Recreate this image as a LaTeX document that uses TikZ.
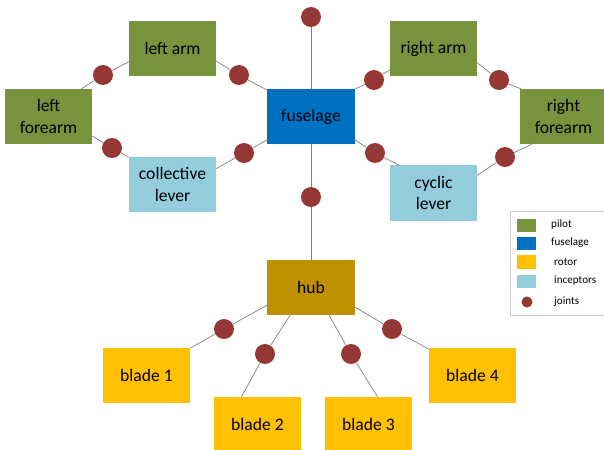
\documentclass[tikz,border=0pt]{standalone}
\usepackage{fontspec}
\setmainfont{Carlito}
\definecolor{pilotgreen}{HTML}{77933C}
\definecolor{fuseblue}{HTML}{0070C0}
\definecolor{rotoryellow}{HTML}{FFC000}
\definecolor{hubgold}{HTML}{BF9000}
\definecolor{incblue}{HTML}{93CDDD}
\definecolor{jointred}{HTML}{953735}
\tikzset{
  part/.style={rectangle, minimum width=2.61cm, minimum height=1.65cm, inner sep=0pt,
    align=center, font=\fontsize{15}{18}\selectfont},
  joint/.style={circle, fill=jointred, minimum size=0.6cm, inner sep=0pt},
  link/.style={draw=gray, line width=0.6pt},
  swatch/.style={rectangle, minimum width=0.57cm, minimum height=0.39cm, inner sep=0pt},
  legtext/.style={anchor=west, inner sep=0pt, font=\fontsize{9.5}{11}\selectfont}
}
\begin{document}
\begin{tikzpicture}[x=0.03cm, y=-0.03cm]
    \useasboundingbox (0,0) rectangle (604,450);

    % pilot, fuselage and inceptors
    \node[part, fill=pilotgreen] (leftarm) at (172.5, 48.5) {left arm};
    \node[part, fill=pilotgreen] (leftforearm) at (48.5, 116.5) {left\\forearm};
    \node[part, fill=incblue] (collective) at (172.5, 184.5) {collective\\lever};
    \node[part, fill=fuseblue] (fuselage) at (311, 116.5) {fuselage};
    \node[part, fill=pilotgreen] (rightarm) at (433.5, 48.5) {right arm};
    \node[part, fill=pilotgreen] (rightforearm) at (563.5, 116.5) {right\\forearm};
    \node[part, fill=incblue] (cyclic) at (433.5, 193) {cyclic\\lever};

    % rotor
    \node[part, fill=hubgold] (hub) at (311, 287.5) {hub};
    \node[part, fill=rotoryellow] (blade1) at (146.5, 375.5) {blade 1};
    \node[part, fill=rotoryellow] (blade2) at (257.5, 424.5) {blade 2};
    \node[part, fill=rotoryellow] (blade3) at (368.5, 424.5) {blade 3};
    \node[part, fill=rotoryellow] (blade4) at (472.5, 375.5) {blade 4};

    % joints
    \node[joint] (jtop) at (311, 17) {};
    \node[joint] (jmid) at (311, 197) {};
    \node[joint] (jlafa) at (103, 75) {};
    \node[joint] (jlaf) at (239, 75) {};
    \node[joint] (jlfc) at (112, 148) {};
    \node[joint] (jcf) at (244, 153) {};
    \node[joint] (jfra) at (374, 80) {};
    \node[joint] (jrafa) at (499, 80) {};
    \node[joint] (jfcy) at (375, 153) {};
    \node[joint] (jcyrf) at (505, 157) {};
    \node[joint] (jb1) at (224, 329) {};
    \node[joint] (jb2) at (265, 354) {};
    \node[joint] (jb3) at (351, 354) {};
    \node[joint] (jb4) at (392, 329) {};

    % Links through the joints
    \draw[link] (jtop) -- (fuselage.north);
    \draw[link] (fuselage.south) -- (jmid) -- (hub.north);
    \draw[link] (leftarm.197) -- (jlafa) -- (leftforearm.40);
    \draw[link] (leftarm.344) -- (jlaf) -- (fuselage.149);
    \draw[link] (leftforearm.336) -- (jlfc) -- (collective.148);
    \draw[link] (collective.20) -- (jcf) -- (fuselage.208);
    \draw[link] (fuselage.32) -- (jfra) -- (rightarm.206);
    \draw[link] (rightarm.342) -- (jrafa) -- (rightforearm.147);
    \draw[link] (fuselage.332) -- (jfcy) -- (cyclic.141);
    \draw[link] (cyclic.22) -- (jcyrf) -- (rightforearm.221);
    \draw[link] (hub.202) -- (jb1) -- (blade1.32);
    \draw[link] (hub.233) -- (jb2) -- (blade2.120);
    \draw[link] (hub.303) -- (jb3) -- (blade3.72);
    \draw[link] (hub.336) -- (jb4) -- (blade4.149);

    % Legend
    \draw[black!20, line width=0.6pt] (510, 211) rectangle (610, 315);
    \node[swatch, fill=pilotgreen] (kpilot) at (526.5, 225.5) {};
    \node[swatch, fill=fuseblue] (kfuse) at (526.5, 243.5) {};
    \node[swatch, fill=rotoryellow] (krotor) at (526.5, 262) {};
    \node[swatch, fill=incblue] (kinc) at (526.5, 281.5) {};
    \node[circle, fill=jointred, minimum size=0.33cm, inner sep=0pt] (kjoint) at (527, 302) {};
    \node[legtext] at (551, 225) {pilot};
    \node[legtext] at (551, 242.5) {fuselage};
    \node[legtext] at (554, 262) {rotor};
    \node[legtext] at (554, 281) {inceptors};
    \node[legtext] at (554, 302) {joints};
\end{tikzpicture}
\end{document}
